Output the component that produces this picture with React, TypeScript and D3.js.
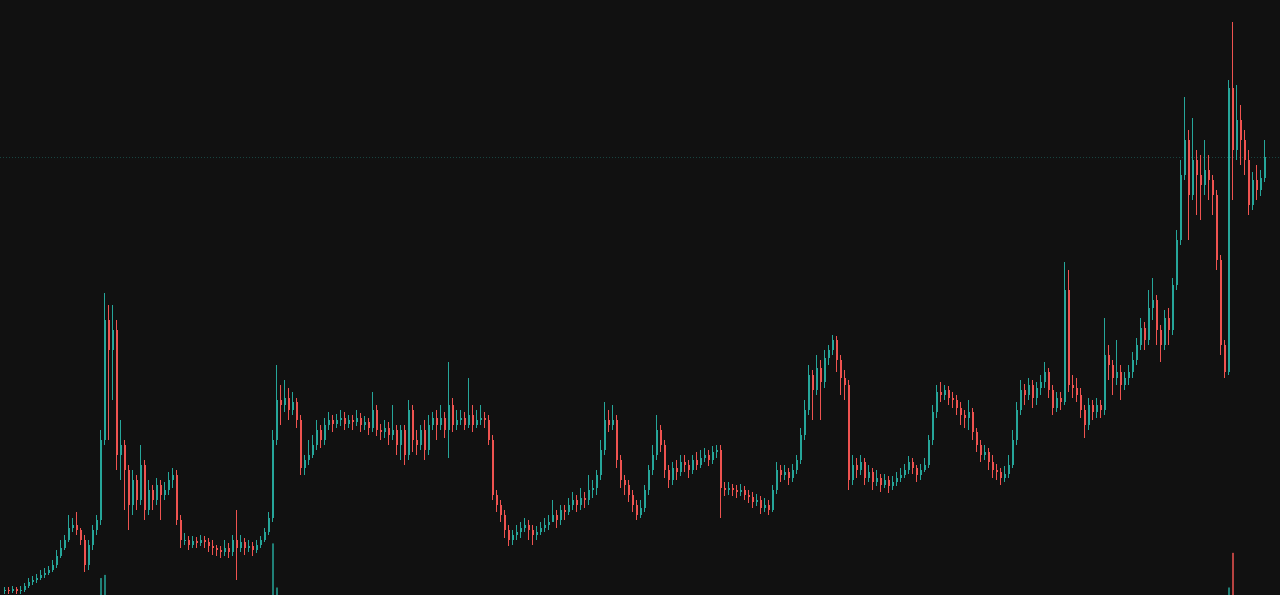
import React from 'react';
import * as d3 from 'd3';

const W = 1280;
const H = 595;

const firstOpen = 4;

const closes = [
  5,4,6,4,5,9,13,15,17,20,
  22,25,30,39,47,55,67,70,65,55,
  30,50,65,75,155,275,245,265,140,150,
  125,90,115,95,130,85,105,95,110,100,
  105,115,120,75,55,55,50,54,52,55,
  53,49,47,45,43,47,43,55,47,53,
  47,49,45,50,55,63,77,155,195,190,
  197,185,193,175,127,135,140,150,165,155,
  170,175,171,175,177,171,175,173,177,170,
  173,167,185,165,163,167,160,165,150,165,
  140,185,155,150,165,145,170,177,170,177,
  165,190,170,175,177,170,180,170,175,177,
  175,155,100,90,80,65,55,60,63,67,
  70,65,60,63,67,70,73,80,75,85,
  83,90,95,90,97,95,105,107,120,145,
  175,170,175,135,115,110,100,90,80,87,
  105,125,140,165,150,125,115,127,123,133,
  130,125,135,130,137,140,135,143,145,107,
  105,107,105,103,105,100,98,93,95,87,
  90,85,105,125,120,123,117,125,135,160,
  185,220,205,227,213,237,245,255,235,217,
  210,115,130,125,133,117,123,113,117,110,
  115,109,113,117,120,125,133,127,120,125,
  130,155,183,203,200,205,197,195,187,180,
  177,183,163,150,140,143,133,125,123,117,
  121,130,155,185,205,200,210,197,207,213,
  223,205,187,197,193,305,210,207,200,185,
  170,190,183,190,185,240,230,217,223,210,
  217,223,235,250,267,255,287,295,265,250,
  277,265,310,355,420,455,400,435,420,410,
  425,415,400,335,250,223,507,445,475,455,
  435,390,415,405,417,438,
];

const highs = [
  8,8,9,8,9,12,17,19,21,25,
  27,29,35,45,55,60,80,77,83,67,
  60,55,70,80,165,302,290,290,275,175,
  155,130,125,120,150,135,115,110,117,115,
  113,123,127,125,80,62,59,59,58,60,
  59,57,55,50,49,55,52,60,85,60,
  57,55,53,55,59,67,83,165,230,210,
  215,207,203,197,180,140,155,160,175,170,
  177,183,180,181,185,183,180,180,185,182,
  179,177,203,190,171,175,173,190,170,170,
  170,195,190,165,170,175,180,183,185,190,
  183,233,197,185,185,183,217,190,185,190,
  183,180,160,105,95,85,70,65,70,73,
  77,75,70,69,73,77,80,95,85,90,
  90,97,103,100,107,103,120,115,125,155,
  193,185,190,180,140,120,115,105,95,95,
  110,130,150,180,170,155,130,133,135,140,
  140,135,140,143,145,147,145,149,150,150,
  113,113,111,110,111,109,105,103,101,99,
  97,95,110,133,130,130,127,131,140,167,
  195,230,225,240,235,245,250,260,259,240,
  225,215,140,137,140,137,130,127,125,121,
  121,119,119,123,127,131,139,137,130,131,
  137,160,190,210,213,210,209,203,200,193,
  185,195,187,167,155,150,147,140,131,127,
  129,140,165,193,215,211,217,215,213,220,
  233,227,210,203,203,333,325,220,217,207,
  190,197,195,197,195,277,250,235,255,230,
  223,230,243,257,277,273,305,317,300,270,
  285,287,317,365,435,498,465,477,445,440,
  455,440,420,405,340,255,515,573,510,490,
  465,445,423,430,425,455,
];

const lows = [
  1,1,2,1,1,3,7,10,12,15,
  17,20,23,27,37,45,53,63,60,50,
  23,25,45,60,70,150,155,195,125,115,
  85,65,80,85,90,75,80,85,90,75,
  95,100,107,70,47,50,45,47,47,49,
  47,43,40,39,37,39,37,39,15,43,
  40,43,39,42,47,53,60,73,150,170,
  183,175,180,167,120,120,130,137,145,147,
  150,165,163,167,169,165,167,165,169,163,
  165,160,163,159,155,157,150,155,140,135,
  130,135,143,140,145,135,140,165,155,165,
  157,137,163,165,170,165,167,163,167,170,
  167,150,95,83,73,57,49,50,55,57,
  63,55,50,55,60,63,65,75,67,70,
  75,80,85,83,85,87,90,97,100,115,
  140,163,165,127,107,100,93,83,75,77,
  83,100,120,135,143,117,107,110,115,119,
  123,117,121,125,127,133,129,131,137,77,
  99,100,99,97,99,95,92,87,89,81,
  83,80,83,101,113,115,110,113,121,131,
  155,180,175,200,175,207,230,240,223,200,
  195,105,110,117,120,110,113,105,109,103,
  107,102,105,109,113,117,121,121,113,115,
  123,127,150,177,193,195,190,187,180,170,
  167,165,155,143,133,135,125,117,115,110,
  113,117,127,150,180,190,195,187,190,200,
  207,197,180,183,185,190,203,197,193,177,
  157,165,175,177,177,180,215,200,210,195,
  205,210,217,230,245,245,250,275,250,233,
  245,250,260,305,350,415,355,395,380,375,
  400,395,380,325,240,217,220,395,435,430,
  420,380,385,395,399,413,
];

const volumeIndex = [24, 25, 67, 68, 306, 307];
const volumeValue = [59, 62, 92, 50, 50, 83];

const UP = '#26a69a';
const DOWN = '#ef5350';
const BG = '#111111';

export default function App() {
  const n = closes.length;
  const opens = closes.map((c, i) => (i === 0 ? firstOpen : closes[i - 1]));
  const x = d3.scaleLinear().domain([0, n - 1]).range([4, 1264]);
  const y = d3.scaleLinear().domain([0, 595]).range([H, 0]);
  const yv = d3.scaleLinear().domain([0, 100]).range([640, 535]);
  const bodyW = 2;
  const last = closes[n - 1];
  const lastUp = last >= opens[n - 1];

  return (
    <svg
      width={W}
      height={H}
      style={{ position: 'fixed', left: 0, top: 0, display: 'block', background: BG }}
    >
      <rect x={0} y={0} width={W} height={H} fill={BG} />
      {volumeIndex.map((idx, k) => {
        const up = closes[idx] >= opens[idx];
        const px = Math.round(x(idx));
        const top = yv(volumeValue[k]);
        return (
          <rect
            key={'v' + k}
            x={px}
            y={top}
            width={bodyW}
            height={Math.max(0, H - top)}
            fill={up ? UP : DOWN}
            opacity={0.75}
          />
        );
      })}
      <line
        x1={0}
        x2={W}
        y1={Math.round(y(last)) + 0.5}
        y2={Math.round(y(last)) + 0.5}
        stroke={lastUp ? UP : DOWN}
        strokeOpacity={0.35}
        strokeDasharray="1,2"
      />
      {closes.map((c, i) => {
        const o = opens[i];
        const up = c >= o;
        const col = up ? UP : DOWN;
        const px = Math.round(x(i));
        const yTop = y(Math.max(o, c));
        const yBot = y(Math.min(o, c));
        return (
          <g key={i}>
            <line
              x1={px + 0.5}
              x2={px + 0.5}
              y1={y(highs[i])}
              y2={y(lows[i])}
              stroke={col}
              strokeWidth={1}
            />
            <rect
              x={px}
              y={yTop}
              width={bodyW}
              height={Math.max(1, yBot - yTop)}
              fill={col}
            />
          </g>
        );
      })}
    </svg>
  );
}
